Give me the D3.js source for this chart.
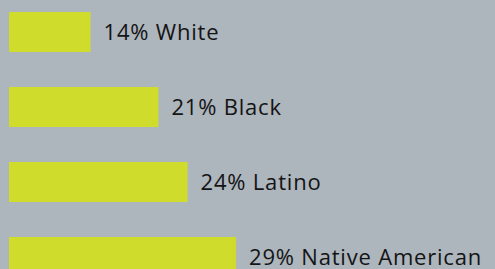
<!DOCTYPE html>
<html>
<head>
<meta charset="utf-8">
<script src="https://cdn.jsdelivr.net/npm/d3@7"></script>
<style>
  html, body { margin: 0; padding: 0; background: #adb5bd; }
  svg { display: block; }
  .label { font-family: "Open Sans", sans-serif; font-size: 22px; letter-spacing: 0.8px; fill: #141414; }
</style>
</head>
<body>
<div class="chart"></div>
<script>
var outerW = 495,
	outerH = 269;

// Data
var groups = ["White", "Black", "Latino", "Native American"];
var percents = [14, 21, 24, 29];

var svg = d3.select(".chart")
	.append("svg")
	.attr("width", outerW)
	.attr("height", outerH);

svg.append("rect")
	.attr("width", outerW)
	.attr("height", outerH)
	.attr("fill", "#adb5bd");

// bars in the original do not start at zero, fit the scale to them
var x = d3.scaleLinear()
	.domain([5.6, 29.3])
	.range([0, 230]);

var y = d3.scaleBand()
	.domain(groups)
	.range([12, 277])
	.paddingInner(35 / 75)
	.paddingOuter(0);

var left = 9;

svg.selectAll(".bar")
	.data(groups)
	.enter()
	.append("rect")
	.attr("class", "bar")
	.attr("x", left)
	.attr("y", function(d) { return y(d); })
	.attr("width", function(d, i) { return x(percents[i]); })
	.attr("height", y.bandwidth())
	.attr("fill", "#cfdc2b");

svg.selectAll(".label")
	.data(groups)
	.enter()
	.append("text")
	.attr("class", "label")
	.attr("x", function(d, i) { return left + x(percents[i]) + 13; })
	.attr("y", function(d) { return y(d) + y.bandwidth() / 2 + 7.5; })
	.text(function(d, i) { return percents[i] + "% " + d; });
</script>
</body>
</html>
